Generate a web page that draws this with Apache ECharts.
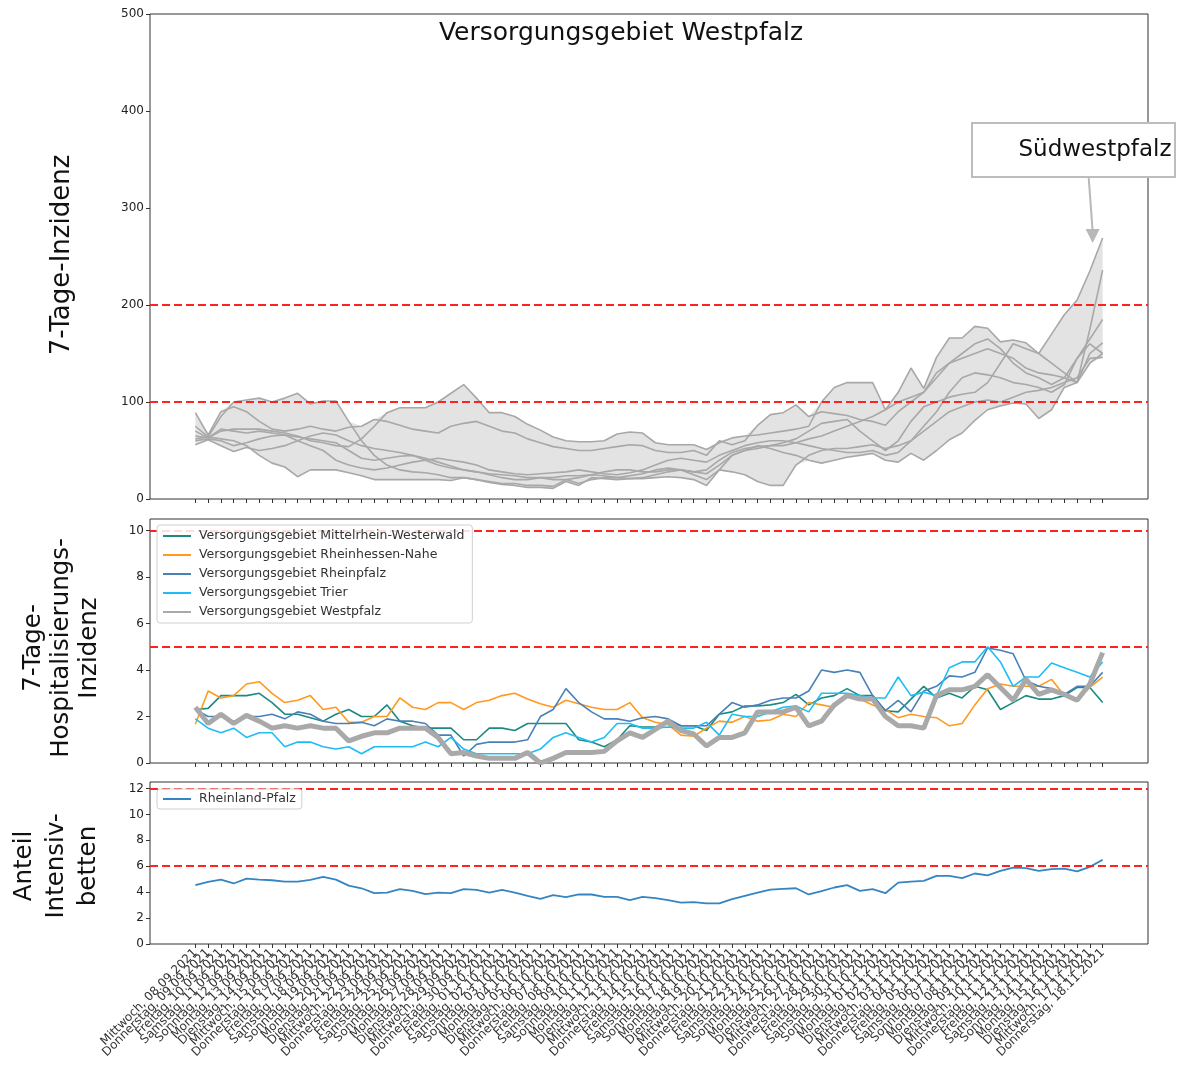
<!DOCTYPE html>
<html>
<head>
<meta charset="utf-8">
<script src="https://cdn.jsdelivr.net/npm/echarts@6/dist/echarts.min.js"></script>
<style>
html,body{margin:0;padding:0;background:#fff;}
#chart{width:1204px;height:1070px;}
</style>
</head>
<body>
<div id="chart"></div>
<script>
// ---------- x-axis tick labels ----------
const dateLabels = [
"Mittwoch, 08.09.2021","Donnerstag, 09.09.2021","Freitag, 10.09.2021","Samstag, 11.09.2021","Sonntag, 12.09.2021",
"Montag, 13.09.2021","Dienstag, 14.09.2021","Mittwoch, 15.09.2021","Donnerstag, 16.09.2021","Freitag, 17.09.2021",
"Samstag, 18.09.2021","Sonntag, 19.09.2021","Montag, 20.09.2021","Dienstag, 21.09.2021","Mittwoch, 22.09.2021",
"Donnerstag, 23.09.2021","Freitag, 24.09.2021","Samstag, 25.09.2021","Sonntag, 26.09.2021","Montag, 27.09.2021",
"Dienstag, 28.09.2021","Mittwoch, 29.09.2021","Donnerstag, 30.09.2021","Freitag, 01.10.2021","Samstag, 02.10.2021",
"Sonntag, 03.10.2021","Montag, 04.10.2021","Dienstag, 05.10.2021","Mittwoch, 06.10.2021","Donnerstag, 07.10.2021",
"Freitag, 08.10.2021","Samstag, 09.10.2021","Sonntag, 10.10.2021","Montag, 11.10.2021","Dienstag, 12.10.2021",
"Mittwoch, 13.10.2021","Donnerstag, 14.10.2021","Freitag, 15.10.2021","Samstag, 16.10.2021","Sonntag, 17.10.2021",
"Montag, 18.10.2021","Dienstag, 19.10.2021","Mittwoch, 20.10.2021","Donnerstag, 21.10.2021","Freitag, 22.10.2021",
"Samstag, 23.10.2021","Sonntag, 24.10.2021","Montag, 25.10.2021","Dienstag, 26.10.2021","Mittwoch, 27.10.2021",
"Donnerstag, 28.10.2021","Freitag, 29.10.2021","Samstag, 30.10.2021","Sonntag, 31.10.2021","Montag, 01.11.2021",
"Dienstag, 02.11.2021","Mittwoch, 03.11.2021","Donnerstag, 04.11.2021","Freitag, 05.11.2021","Samstag, 06.11.2021",
"Sonntag, 07.11.2021","Montag, 08.11.2021","Dienstag, 09.11.2021","Mittwoch, 10.11.2021","Donnerstag, 11.11.2021",
"Freitag, 12.11.2021","Samstag, 13.11.2021","Sonntag, 14.11.2021","Montag, 15.11.2021","Dienstag, 16.11.2021",
"Mittwoch, 17.11.2021","Donnerstag, 18.11.2021"
];

// ---------- panel 1: 7-Tage-Inzidenz, Kreise im Versorgungsgebiet Westpfalz ----------
const inzSuedwestpfalz = [75,64,85,100,102,104,100,104,109,98,101,101, 80,60,45,35,30,28,27,25,22,22, 20,17,15,14,12,12,11,18,14,22, 21,20,21,22,25,28,30,28,26,35, 45,50,52,55,55,58,62,65,70,75, 80,85,92,110,135,114,146,166,166,178, 176,162,164,161,150,170,190,205,235,269];
const inzKreis2 = [65,63,70,72,72,72,70,68,65,60,58,55, 54,62,75,89,94,94,94,100,109,118, 104,89,89,85,77,71,64,60,59,59, 60,67,69,68,58,56,56,56,51,58, 63,65,66,68,70,72,75,100,115,120, 120,120,92,100,105,110,130,140,150,160, 165,155,140,130,125,118,125,120,175,236];
const inzKreis3 = [89,66,90,95,90,80,72,70,72,75,72,70, 74,75,82,80,76,72,70,68,75,78, 80,75,70,68,62,58,54,52,50,50, 52,54,56,55,50,48,48,50,45,60, 56,60,76,87,89,97,85,90,88,86, 82,80,76,90,100,110,125,140,145,150, 155,150,145,135,130,128,125,145,165,185];
const inzKreis4 = [60,62,60,55,58,62,65,66,64,62,60,58, 50,42,40,42,44,45,42,38,34,30, 28,26,25,24,22,22,20,20,22,25, 28,30,30,28,28,30,30,28,30,40, 48,52,54,55,58,62,70,78,80,82, 70,60,50,60,80,95,100,105,108,110, 120,140,160,155,150,140,130,120,150,161];
const inzKreis5 = [56,61,55,49,53,50,52,55,60,65,68,66, 60,55,52,50,48,45,40,35,32,30, 28,25,22,20,20,22,22,24,24,25, 24,22,24,26,30,32,30,25,20,30, 45,50,55,52,48,45,40,37,40,43, 45,47,40,38,47,40,50,61,68,81, 92,96,99,98,83,92,115,120,140,150];
const inzKreis6 = [62,64,62,60,55,45,37,33,23,30,30,30, 27,24,20,20,20,20,20,20,19,22, 20,18,16,16,14,14,13,20,16,20, 22,22,21,21,22,23,22,20,14,30, 28,25,18,14,14,35,45,50,52,52, 54,56,52,55,60,70,80,90,95,100, 102,100,105,110,112,115,120,125,145,146];
const inzKreis7 = [70,63,72,70,68,70,68,66,60,55,50,40, 35,32,30,32,35,38,40,42,40,38, 35,30,28,26,25,26,27,28,30,28, 26,25,27,30,35,40,42,40,38,45, 50,55,58,60,60,58,55,52,50,48, 48,50,45,48,60,75,90,110,125,130, 128,125,120,118,115,110,118,145,160,150];

// ---------- panel 2: 7-Tage-Hospitalisierungs-Inzidenz ----------
const hospMittelrhein = [2.3,2.35,2.9,2.9,2.9,3.0,2.6,2.1,2.1,1.95,1.8,2.1, 2.3,2.0,2.0,2.5,1.8,1.6,1.5,1.5,1.5,1.0, 1.0,1.5,1.5,1.4,1.7,1.7,1.7,1.7,1.0,0.9, 0.7,1.0,1.6,1.55, 1.55,1.8,1.6,1.6,1.4,2.1, 2.2,2.45,2.45,2.5,2.6,2.95,2.5,2.8,2.9,3.2, 2.9,2.9,2.25,2.2,2.75,3.3,2.8,3.0,2.8,3.3, 3.15,2.3,2.6,2.9,2.75,2.75,2.9,3.25,3.25,2.6];
const hospRheinhessen = [1.67,3.1,2.8,2.9,3.4,3.5,3.0,2.6,2.7,2.9,2.3,2.4, 1.75,1.75,2.0,2.0,2.8,2.4,2.3,2.6,2.6,2.3, 2.6,2.7,2.9,3.0,2.75,2.55,2.4,2.7,2.55,2.4, 2.3,2.3,2.6,1.95, 1.75,1.65,1.2,1.15,1.5,1.8, 1.75,2.0,1.8,1.85,2.1,2.0,2.6,2.5,2.4,2.9, 2.75,2.5,2.3,1.95,2.1,2.0,1.95,1.6,1.7,2.5, 3.2,3.4,3.3,3.3,3.3,3.6,2.9,2.7,3.25,3.7];
const hospRheinpfalz = [2.3,2.0,2.0,1.8,2.0,2.0,2.1,1.9,2.2,2.1,1.8,1.7, 1.7,1.75,1.6,1.9,1.8,1.8,1.7,1.2,1.2,0.3, 0.8,0.9,0.9,0.9,1.0,2.0,2.3,3.2,2.6,2.2, 1.9,1.9,1.8,1.95, 2.0,1.9,1.6,1.6,1.6,2.1, 2.6,2.4,2.5,2.7,2.8,2.8,3.1,4.0,3.9,4.0, 3.9,2.9,2.25,2.7,2.2,3.1,3.3,3.75,3.7,3.9, 4.95,4.85,4.7,3.55,3.3,3.2,2.95,3.3,3.3,3.9];
const hospTrier = [1.9,1.5,1.3,1.5,1.1,1.3,1.3,0.7,0.9,0.9,0.7,0.6, 0.7,0.4,0.7,0.7,0.7,0.7,0.9,0.7,1.1,0.6, 0.4,0.4,0.4,0.4,0.4,0.6,1.1,1.3,1.1,0.9, 1.1,1.7,1.7,1.5, 1.5,1.55,1.5,1.5,1.75,1.2, 2.1,2.0,2.0,2.2,2.4,2.45,2.2,3.0,3.0,3.0, 2.9,2.8,2.8,3.7,2.9,3.05,2.9,4.1,4.35,4.35, 5.0,4.35,3.3,3.7,3.7,4.3,4.1,3.9,3.7,4.35];
const hospWestpfalz = [2.4,1.7,2.1,1.7,2.05,1.8,1.5,1.6,1.5,1.6,1.5,1.5, 0.95,1.15,1.3,1.3,1.5,1.5,1.5,1.1,0.4,0.45, 0.3,0.2,0.2,0.2,0.45,0.0,0.2,0.45,0.45,0.45, 0.5,0.95,1.3,1.1, 1.45,1.8,1.4,1.25,0.73,1.1, 1.1,1.3,2.2,2.2,2.2,2.4,1.6,1.8,2.5,2.9, 2.75,2.75,2.0,1.6,1.6,1.5,2.9,3.15,3.15,3.3, 3.8,3.25,2.7,3.6,2.95,3.15,2.95,2.7,3.4,4.75];

// ---------- panel 3: Anteil Intensivbetten ----------
const icuRLP = [4.54,4.8,4.97,4.67,5.05,4.97,4.92,4.82,4.82,4.95,5.18,4.97, 4.5,4.3,3.92,3.97,4.23,4.1,3.85,3.97,3.92,4.23, 4.18,3.97,4.18,3.97,3.72,3.49,3.77,3.62,3.82,3.82, 3.64,3.64,3.38,3.64,3.54,3.38,3.2,3.23,3.13,3.13, 3.46,3.72,3.97,4.2,4.26,4.3,3.82,4.08,4.36,4.54, 4.1,4.23,3.92,4.74,4.82,4.87,5.26,5.26,5.08,5.44, 5.3,5.64,5.9,5.85,5.64,5.77,5.82,5.6,5.95,6.5];

// thresholds & ticks
const inzThresholds = [100, 200];
const hospThresholds = [5, 10];
const icuThresholds = [6, 12];
const hospTicks = [0, 2, 4, 6, 8, 10];
const icuTicks = [0, 2, 4, 6, 8, 10, 12];

// ---------- build ----------
const idx = dateLabels.map((_, i) => i);
const pairs = arr => arr.map((v, i) => [i, v]);
const kreise = [inzSuedwestpfalz, inzKreis2, inzKreis3, inzKreis4, inzKreis5, inzKreis6, inzKreis7];
const kreisNames = ['Südwestpfalz','Kaiserslautern','Kaiserslautern (Stadt)','Kusel','Pirmasens','Zweibrücken','Donnersbergkreis'];
const bandLow = idx.map(i => Math.min(...kreise.map(k => k[i])));
const bandHigh = idx.map(i => Math.max(...kreise.map(k => k[i])));

const FONT = 'DejaVu Sans';
const gridL = 150, gridW = 998;
const XMIN = -3.55, XMAX = 74.55;   // matplotlib-like 5% margins around index 0..71
const pxPerUnit = gridW / (XMAX - XMIN);
const grids = [
  {left: gridL, width: gridW, top: 14, height: 485},
  {left: gridL, width: gridW, top: 519, height: 244},
  {left: gridL, width: gridW, top: 782, height: 162}
].map(g => Object.assign(g, {show: true, borderColor: '#333', borderWidth: 1, backgroundColor: 'transparent', containLabel: false}));
// label-only grid spanning exactly the first..last tick, so every category label is shown
grids.push({left: gridL + (0 - XMIN) * pxPerUnit, width: (idx.length - 1) * pxPerUnit, top: 782, height: 162, show: false, containLabel: false});

function xAxis(gi) {
  return {
    type: 'value', gridIndex: gi, min: XMIN, max: XMAX,
    splitLine: {show: false}, axisLine: {show: false, onZero: false},
    axisTick: {show: true, customValues: idx, length: 4, lineStyle: {color: '#333', width: 1}},
    axisLabel: {show: false}
  };
}
function yAxis(gi, extra) {
  return Object.assign({
    type: 'value', gridIndex: gi, min: 0,
    splitLine: {show: false}, axisLine: {show: false, onZero: false},
    axisTick: {show: true, length: 4, lineStyle: {color: '#333', width: 1}},
    axisLabel: {fontSize: 12, fontFamily: FONT, color: '#222', margin: 6}
  }, extra);
}
function threshold(vals) {
  return {
    silent: true, symbol: ['none', 'none'], label: {show: false},
    lineStyle: {color: '#ff2020', width: 2, type: [8, 4]},
    emphasis: {disabled: true},
    data: vals.map(v => ({yAxis: v}))
  };
}

const series = [];
// min–max band of the district lines
series.push({
  name: '_band', type: 'custom', xAxisIndex: 0, yAxisIndex: 0, silent: true, z: 1,
  data: idx.map(i => [i, bandLow[i], bandHigh[i]]),
  encode: {x: 0, y: [1, 2]},
  renderItem: (params, api) => {
    if (params.dataIndex !== 0) return null;
    const pts = [];
    for (let i = 0; i < idx.length; i++) pts.push(api.coord([i, bandHigh[i]]));
    for (let i = idx.length - 1; i >= 0; i--) pts.push(api.coord([i, bandLow[i]]));
    return {type: 'polygon', shape: {points: pts}, style: {fill: '#e3e3e3', stroke: null}};
  }
});
kreise.forEach((k, j) => {
  series.push({name: kreisNames[j], type: 'line', xAxisIndex: 0, yAxisIndex: 0, symbol: 'none',
    data: pairs(k), lineStyle: {color: '#a8a8a8', width: 1.6}, z: 2,
    markLine: j === 0 ? threshold(inzThresholds) : undefined});
});
// hospital
const hospSeries = [
  ['Versorgungsgebiet Mittelrhein-Westerwald', hospMittelrhein, '#1b8a80', 1.6],
  ['Versorgungsgebiet Rheinhessen-Nahe', hospRheinhessen, '#ff9a1f', 1.6],
  ['Versorgungsgebiet Rheinpfalz', hospRheinpfalz, '#4a80b8', 1.6],
  ['Versorgungsgebiet Trier', hospTrier, '#1ebdf5', 1.6],
  ['Versorgungsgebiet Westpfalz', hospWestpfalz, '#a9a9a9', 5]
];
hospSeries.forEach((s, j) => {
  series.push({name: s[0], type: 'line', xAxisIndex: 1, yAxisIndex: 1, symbol: 'none',
    data: pairs(s[1]), lineStyle: {color: s[2], width: s[3]}, itemStyle: {color: s[2]}, z: 2 + j,
    markLine: j === 0 ? threshold(hospThresholds) : undefined});
});
series.push({name: 'Rheinland-Pfalz', type: 'line', xAxisIndex: 2, yAxisIndex: 2, symbol: 'none',
  data: pairs(icuRLP), lineStyle: {color: '#3585c2', width: 1.8}, itemStyle: {color: '#3585c2'},
  markLine: threshold(icuThresholds)});

const legendCommon = {
  orient: 'vertical', left: 157, icon: 'rect', itemWidth: 28, itemHeight: 2, itemGap: 5, z: 20,
  padding: [4, 8, 4, 6], backgroundColor: 'rgba(255,255,255,0.85)', borderColor: '#d0d0d0', borderWidth: 1, borderRadius: 3,
  textStyle: {fontSize: 12.5, fontFamily: FONT, color: '#333', lineHeight: 14, padding: [0, 0, 0, 3]},
  selectedMode: false
};

const chart = echarts.init(document.getElementById('chart'), null, {renderer: 'canvas'});
chart.setOption({
  animation: false,
  backgroundColor: '#fff',
  grid: grids,
  xAxis: [xAxis(0), xAxis(1), xAxis(2), {
    type: 'category', gridIndex: 3, data: dateLabels, boundaryGap: false,
    axisLine: {show: false, onZero: false}, axisTick: {show: false}, splitLine: {show: false},
    axisLabel: {interval: 0, rotate: 45, fontSize: 12, fontFamily: FONT, color: '#333', margin: 7}
  }],
  yAxis: [
    yAxis(0, {max: 500, interval: 100}),
    yAxis(1, {max: 10.5, axisTick: {show: true, customValues: hospTicks, length: 4, lineStyle: {color: '#333'}},
      axisLabel: {customValues: hospTicks, fontSize: 12, fontFamily: FONT, color: '#222', margin: 6}}),
    yAxis(2, {max: 12.5, axisTick: {show: true, customValues: icuTicks, length: 4, lineStyle: {color: '#333'}},
      axisLabel: {customValues: icuTicks, fontSize: 12, fontFamily: FONT, color: '#222', margin: 6}}),
    {type: 'value', gridIndex: 3, show: false, min: 0, max: 1}
  ],
  legend: [
    Object.assign({}, legendCommon, {top: 525, data: hospSeries.map(s => s[0])}),
    Object.assign({}, legendCommon, {top: 789, padding: [3, 6, 3, 6], data: ['Rheinland-Pfalz']})
  ],
  series: series
});

// annotation arrow tip derived from the last point of the highest district line
const tip = chart.convertToPixel({xAxisIndex: 0, yAxisIndex: 0}, [idx.length - 1, inzSuedwestpfalz[inzSuedwestpfalz.length - 1]]);
const tx = tip[0] - 10, ty = tip[1] + 5;
const txtStyle = (t, size) => ({text: t, font: size + 'px "' + FONT + '"', fill: '#111', align: 'center', verticalAlign: 'middle'});
chart.setOption({
  graphic: [
    {type: 'text', x: 621, y: 33, style: txtStyle('Versorgungsgebiet Westpfalz', 25)},
    {type: 'text', x: 62, y: 255, rotation: Math.PI / 2, style: txtStyle('7-Tage-Inzidenz', 26)},
    {type: 'text', x: 62, y: 648, rotation: Math.PI / 2, style: Object.assign(txtStyle('7-Tage-\nHospitalisierungs-\nInzidenz', 24.5), {lineHeight: 28})},
    {type: 'text', x: 57, y: 866, rotation: Math.PI / 2, style: Object.assign(txtStyle('Anteil\nIntensiv-\nbetten', 24.5), {lineHeight: 32})},
    {type: 'rect', shape: {x: 972, y: 123, width: 203, height: 54}, style: {fill: '#fff', stroke: '#bdbdbd', lineWidth: 2}},
    {type: 'text', x: 1095, y: 150, style: txtStyle('Südwestpfalz', 23)},
    {type: 'line', shape: {x1: tx - 4, y1: 177, x2: tx, y2: ty - 12}, style: {stroke: '#b8b8b8', lineWidth: 2}},
    {type: 'polygon', shape: {points: [[tx - 7, ty - 14], [tx + 7, ty - 14], [tx, ty]]}, style: {fill: '#b8b8b8'}}
  ]
});
</script>
</body>
</html>
